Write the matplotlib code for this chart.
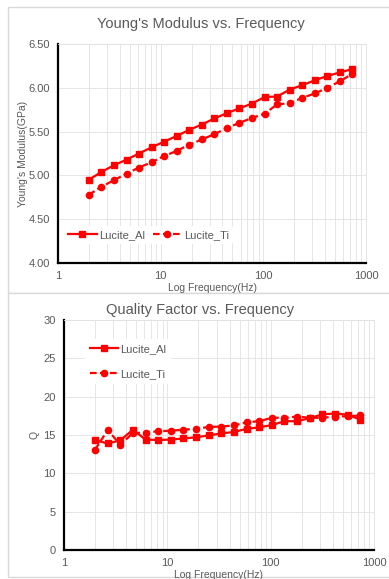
import matplotlib
matplotlib.use("Agg")
import matplotlib.pyplot as plt
from matplotlib.patches import Rectangle
from matplotlib.ticker import FixedLocator, LogLocator, NullFormatter

plt.rcParams["font.family"] = ["Liberation Sans", "DejaVu Sans"]

# measurement frequencies (Hz)
freq = [2.0, 2.65, 3.5, 4.65, 6.15, 8.15, 10.8, 14.3, 19.0, 25.1, 33.3,
        44.1, 58.4, 77.4, 103, 136, 181, 239, 317, 420, 557, 738]

# Young's modulus (GPa)
E_al = [4.95, 5.04, 5.115, 5.18, 5.25, 5.32, 5.385, 5.45, 5.52, 5.58, 5.65,
        5.71, 5.765, 5.82, 5.895, 5.90, 5.98, 6.03, 6.085, 6.135, 6.175, 6.215]
E_ti = [4.78, 4.87, 4.945, 5.02, 5.09, 5.15, 5.22, 5.28, 5.35, 5.41, 5.47,
        5.54, 5.60, 5.655, 5.705, 5.81, 5.825, 5.885, 5.935, 6.0, 6.075, 6.16]

# quality factor
Q_al = [14.3, 13.9, 14.3, 15.7, 14.4, 14.35, 14.4, 14.55, 14.7, 14.95, 15.2,
        15.4, 15.8, 16.0, 16.3, 16.8, 16.8, 17.2, 17.7, 17.8, 17.65, 17.0]
Q_ti = [13.1, 15.65, 13.75, 15.25, 15.3, 15.5, 15.55, 15.7, 15.8, 16.05, 16.1,
        16.25, 16.65, 16.8, 17.25, 17.25, 17.4, 17.25, 17.25, 17.4, 17.45, 17.55]

RED = "#FF0000"
GRID = "#E2E2E2"
FRAME = "#D9D9D9"
TXT = "#595959"

W, H = 389, 579
fig = plt.figure(figsize=(W / 100, H / 100), dpi=100)

# panel frames
for y0, y1 in [(7, 293), (293, 577)]:
    fig.patches.append(Rectangle((8 / W, 1 - y1 / H), 1.0, (y1 - y0) / H,
                                 transform=fig.transFigure, facecolor="white",
                                 edgecolor=FRAME, lw=1.0, zorder=-5))


def style_axes(ax):
    ax.set_xscale("log")
    ax.set_xlim(1, 1000)
    ax.xaxis.set_major_locator(FixedLocator([1, 10, 100, 1000]))
    ax.xaxis.set_minor_locator(LogLocator(base=10, subs=range(2, 10)))
    ax.xaxis.set_minor_formatter(NullFormatter())
    ax.set_xticklabels(["1", "10", "100", "1000"])
    ax.grid(True, which="both", axis="x", color=GRID, lw=0.6)
    ax.grid(True, which="major", axis="y", color=GRID, lw=0.6)
    ax.set_axisbelow(True)
    for s in ["top", "right"]:
        ax.spines[s].set_color(GRID)
        ax.spines[s].set_linewidth(0.6)
    for s in ["left", "bottom"]:
        ax.spines[s].set_color("black")
        ax.spines[s].set_linewidth(1.6)
    ax.tick_params(which="both", length=0, labelsize=8, labelcolor=TXT, pad=6)
    ax.set_xlabel("Log Frequency(Hz)", fontsize=7.5, color=TXT, labelpad=1)


def plot_pair(ax, y_al, y_ti):
    ax.plot(freq, y_al, color=RED, lw=1.6, marker="s", ms=4.5, label="Lucite_Al")
    ax.plot(freq, y_ti, color=RED, lw=1.6, ls=(0, (3, 1.5)), marker="o", ms=4.5,
            label="Lucite_Ti")


# Young's modulus panel
ax1 = fig.add_axes([58 / W, 1 - 263 / H, 308 / W, 219 / H])
style_axes(ax1)
plot_pair(ax1, E_al, E_ti)
ax1.set_ylim(4.0, 6.5)
ax1.set_yticks([4.0, 4.5, 5.0, 5.5, 6.0, 6.5])
ax1.set_yticklabels(["4.00", "4.50", "5.00", "5.50", "6.00", "6.50"])
ax1.set_ylabel("Young's Modulus(GPa)", fontsize=7.5, color=TXT, labelpad=0)
fig.text(201 / W, 1 - 24 / H, "Young's Modulus vs. Frequency", fontsize=10.5,
         color=TXT, ha="center", va="center")
ax1.legend(loc="center left", bbox_to_anchor=(0.0, 0.128), ncol=2, fontsize=8,
           handlelength=2.6, handletextpad=0.2, columnspacing=0.7,
           frameon=True, facecolor="white", edgecolor="none", framealpha=1,
           labelcolor=TXT, borderaxespad=0.5)

# quality factor panel
ax2 = fig.add_axes([64 / W, 1 - 550 / H, 310 / W, 230 / H])
style_axes(ax2)
plot_pair(ax2, Q_al, Q_ti)
ax2.set_ylim(0, 30)
ax2.set_yticks([0, 5, 10, 15, 20, 25, 30])
ax2.set_ylabel("Q", fontsize=7.5, color=TXT, labelpad=3)
fig.text(200 / W, 1 - 310 / H, "Quality Factor vs. Frequency", fontsize=10.5,
         color=TXT, ha="center", va="center")
ax2.legend(loc="upper left", bbox_to_anchor=(0.05, 0.94), fontsize=8,
           handlelength=2.6, handletextpad=0.2, labelspacing=1.4,
           frameon=True, facecolor="white", edgecolor="none", framealpha=1,
           labelcolor=TXT)

fig.savefig("out.png", dpi=100)
